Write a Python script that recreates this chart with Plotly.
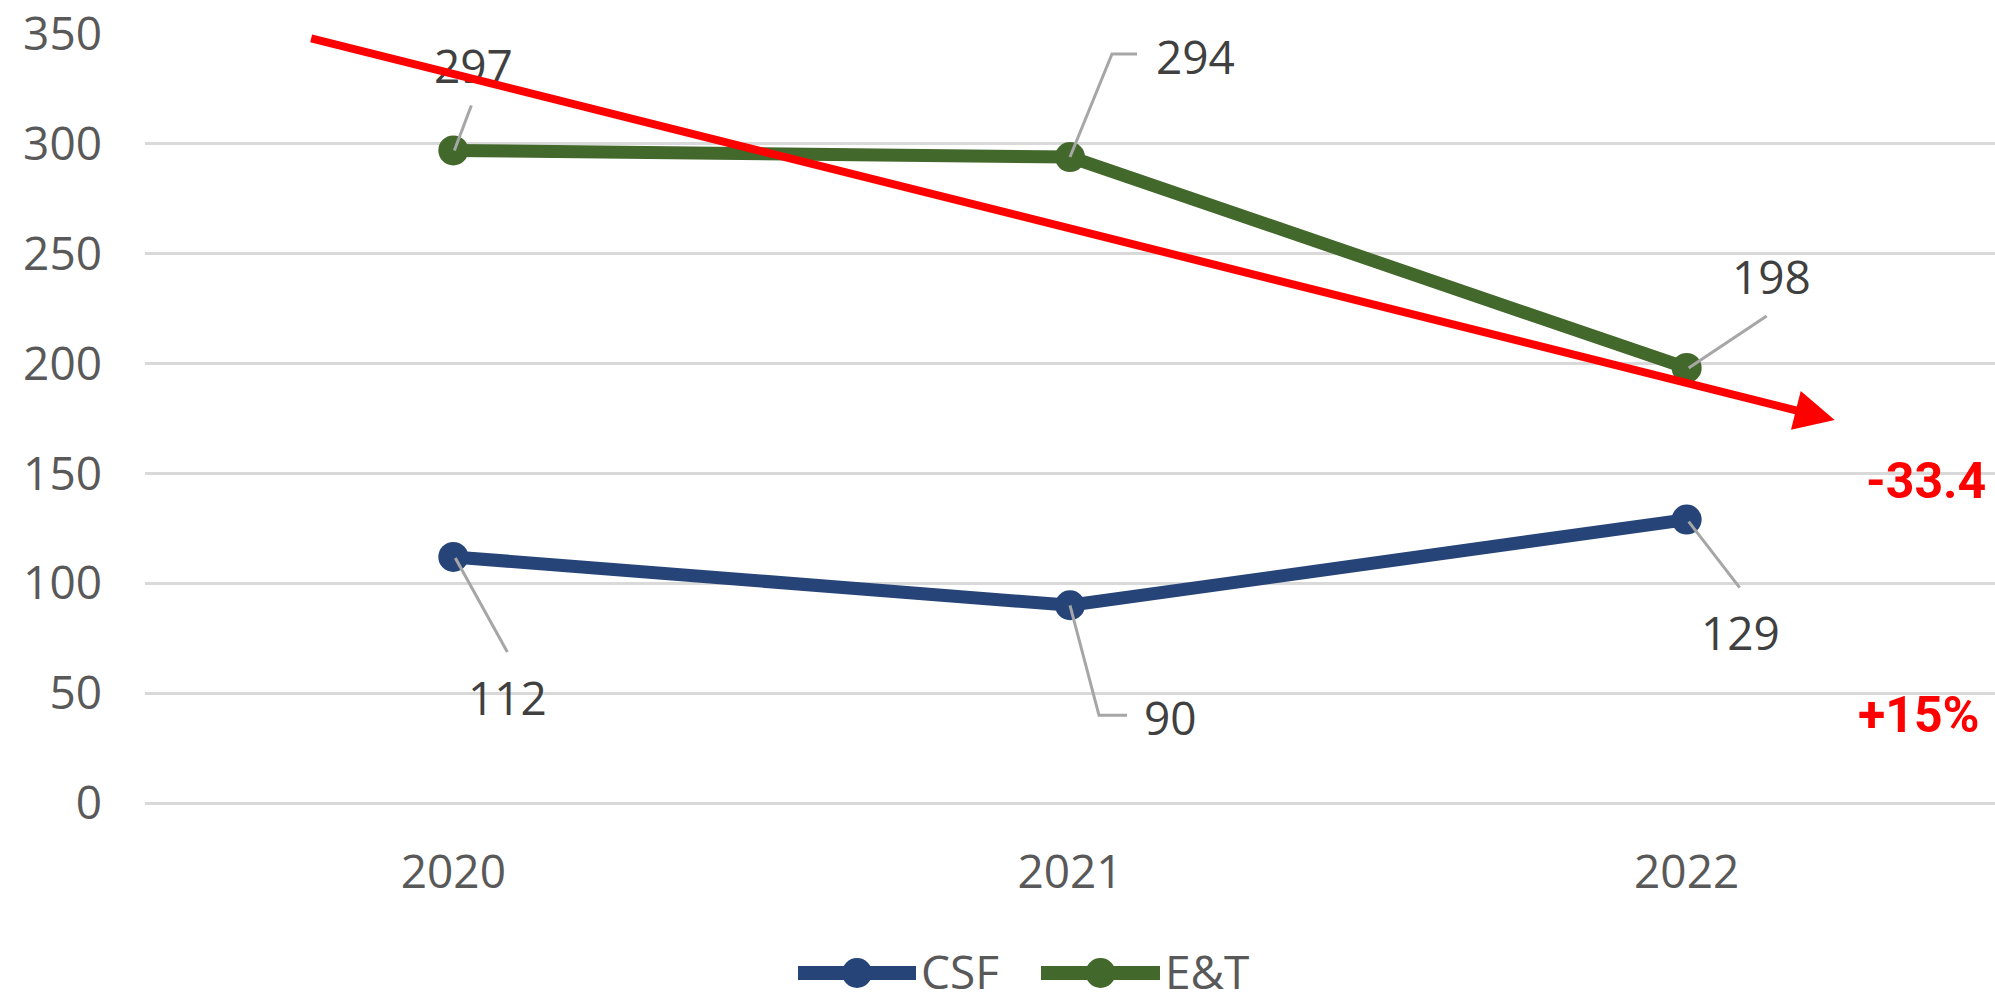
import plotly.graph_objects as go

# ---- data ----
years = ["2020", "2021", "2022"]
csf = [112, 90, 129]
et = [297, 294, 198]
y_ticks = [0, 50, 100, 150, 200, 250, 300, 350]
change_et = "-33.4"
change_csf = "+15%"

# ---- styling ----
W, H = 1995, 1003
L, R, T, B = 145, 0, 34, 200
PLOT_W = W - L - R
PLOT_H = H - T - B

BLUE = "#264478"
GREEN = "#43682B"
RED = "#FF0000"
GRID = "#D9D9D9"
TICK_COL = "#595959"
LABEL_COL = "#404040"
LEADER = "#A6A6A6"
FONT = "Open Sans"
FS = 46


def px(x):
    """pixel column -> paper x"""
    return (x - L) / PLOT_W


def py(y):
    """pixel row -> paper y"""
    return (H - B - y) / PLOT_H


fig = go.Figure()
fig.add_trace(go.Scatter(x=years, y=csf, name="CSF", mode="lines+markers",
                         line=dict(color=BLUE, width=13),
                         marker=dict(color=BLUE, size=30), showlegend=False))
fig.add_trace(go.Scatter(x=years, y=et, name="E&T", mode="lines+markers",
                         line=dict(color=GREEN, width=13),
                         marker=dict(color=GREEN, size=30), showlegend=False))

annotations = []
shapes = []

# value labels: text offset from its point (screen px, +y down) and the
# leader-line polyline from the point towards the label
label_layout = {
    "CSF": [
        ((54, 140), [(2, 1), (54, 95)]),
        ((100, 112), [(0, 0), (29, 110), (57, 110)]),
        ((54, 112), [(2, 2), (53, 68)]),
    ],
    "E&T": [
        ((20, -85), [(1, 0), (18, -45)]),
        ((125, -101), [(0, 0), (42, -103), (67, -103)]),
        ((85, -92), [(2, 0), (80, -52)]),
    ],
}
for name, vals in (("CSF", csf), ("E&T", et)):
    for i, (v, ((dx, dy), leader)) in enumerate(zip(vals, label_layout[name])):
        path = "M" + " L".join(f"{lx},{-ly}" for lx, ly in leader)
        shapes.append(dict(type="path", xref="x", yref="y",
                           xsizemode="pixel", ysizemode="pixel",
                           xanchor=i, yanchor=v, path=path,
                           line=dict(color=LEADER, width=3), layer="above"))
        annotations.append(dict(
            x=i, y=v, xref="x", yref="y", text=str(v),
            showarrow=False, xshift=dx, yshift=-dy,
            xanchor="center", yanchor="middle",
            font=dict(family=FONT, size=FS, color=LABEL_COL)))

# red trend arrow across the E&T decline
annotations.append(dict(
    x=2.24, y=174.3, xref="x", yref="y",
    ax=-0.233, ay=348.2, axref="x", ayref="y",
    text="", showarrow=True, arrowhead=2, arrowsize=1.0,
    arrowwidth=8, arrowcolor=RED, standoff=0, startstandoff=0))

# percentage-change callouts
annotations.append(dict(
    x=px(1988), y=py(481), xref="paper", yref="paper",
    xanchor="right", yanchor="middle", showarrow=False, text=change_et,
    font=dict(family="Roboto", size=50, color=RED, weight="bold")))
annotations.append(dict(
    x=px(1982), y=py(715), xref="paper", yref="paper",
    xanchor="right", yanchor="middle", showarrow=False, text=change_csf,
    font=dict(family="Roboto", size=50, color=RED, weight="bold")))

# legend built from line + marker swatches
legend_items = [("CSF", BLUE, 798, 916), ("E&T", GREEN, 1041, 1160)]
LEG_Y = 971
for name, col, x0, x1 in legend_items:
    shapes.append(dict(type="line", xref="paper", yref="paper",
                       x0=px(x0), x1=px(x1), y0=py(LEG_Y + 2), y1=py(LEG_Y + 2),
                       line=dict(color=col, width=14)))
    shapes.append(dict(type="circle", xref="paper", yref="paper",
                       xsizemode="pixel", ysizemode="pixel",
                       xanchor=px((x0 + x1) / 2), yanchor=py(LEG_Y + 2),
                       x0=-15, x1=15, y0=-15, y1=15,
                       fillcolor=col, line=dict(color=col, width=0)))
    annotations.append(dict(
        x=px(x1 + 3), y=py(LEG_Y), xref="paper", yref="paper",
        xanchor="left", yanchor="middle", showarrow=False, text=name,
        font=dict(family=FONT, size=FS, color=TICK_COL)))

fig.update_layout(
    width=W, height=H,
    margin=dict(l=L, r=R, t=T, b=B, pad=0),
    paper_bgcolor="white", plot_bgcolor="white",
    showlegend=False,
    annotations=annotations,
    shapes=shapes,
    font=dict(family=FONT, size=FS, color=TICK_COL),
)
fig.update_xaxes(type="category", range=[-0.5, 2.5], showgrid=False,
                 showline=False, zeroline=False, ticks="",
                 ticklabelstandoff=38,
                 tickfont=dict(family=FONT, size=FS, color=TICK_COL))
fig.update_yaxes(range=[0, 350], tickvals=y_ticks, showgrid=True,
                 gridcolor=GRID, gridwidth=3, zeroline=True,
                 zerolinecolor=GRID, zerolinewidth=3, showline=False,
                 ticks="", ticklabelstandoff=42,
                 tickfont=dict(family=FONT, size=FS, color=TICK_COL))

fig.write_html("out.html")
